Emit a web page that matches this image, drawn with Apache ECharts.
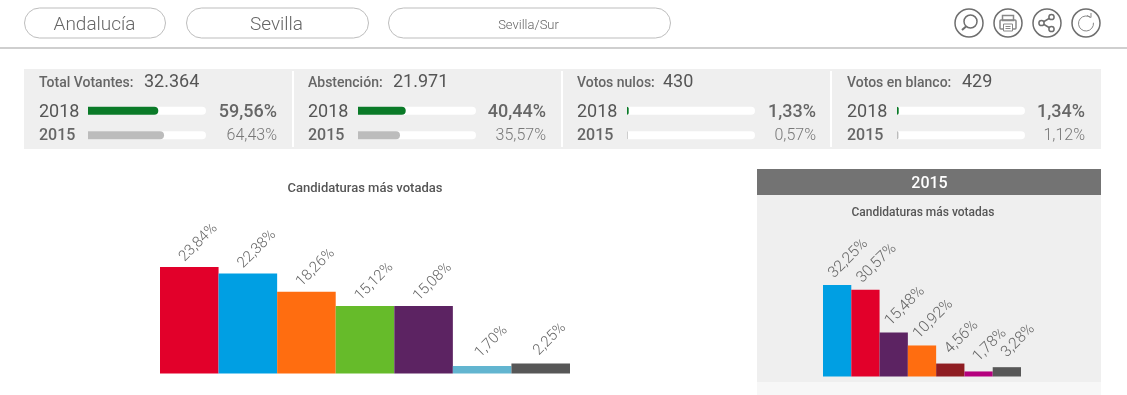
<!DOCTYPE html>
<html><head><meta charset="utf-8">
<style>html,body{margin:0;padding:0;background:#fff}#c{width:1127px;height:395px}</style>
<script src="https://cdn.jsdelivr.net/npm/echarts@6/dist/echarts.min.js"></script>
</head><body><div id="c"></div>
<script>
// ---------- data ----------
const navLabels = ['Andalucía', 'Sevilla', 'Sevilla/Sur'];
const statTitles = ['Total Votantes:', 'Abstención:', 'Votos nulos:', 'Votos en blanco:'];
const statTotals = ['32.364', '21.971', '430', '429'];
const years = ['2015', '2018'];
const pct2018 = [59.56, 40.44, 1.33, 1.34];
const pct2015 = [64.43, 35.57, 0.57, 1.12];
const chartTitle = 'Candidaturas más votadas';
const panelYear = '2015';
const values2018 = [23.84, 22.38, 18.26, 15.12, 15.08, 1.70, 2.25];
const colors2018 = ['#e2002a', '#009fe3', '#ff6d10', '#66bb2a', '#5c2362', '#62b5d0', '#575757'];
const values2015 = [32.25, 30.57, 15.48, 10.92, 4.56, 1.78, 3.28];
const colors2015 = ['#009fe3', '#e2002a', '#5c2362', '#ff6d10', '#8f1d22', '#b5007e', '#575757'];

// ---------- layout ----------
const FONT = 'Roboto, sans-serif';
const fmt = v => v.toFixed(2).replace('.', ',') + '%';
const cardX = [39, 308, 577, 847];      // text left
const trackX = [88, 358, 627, 897];
const trackW = [118, 118, 128, 128];
const pctRight = [277, 546, 816, 1085];
const navBoxes = [[24.5, 141, 94.5], [186.5, 182, 276.5], [388.5, 282, 528.5]];
const navSize = [19, 19, 13];
const totalX = [144, 393, 663, 962];

const g = [];
const rect = (x, y, w, h, fill, z) => g.push({type:'rect', z:z||0, shape:{x,y,width:w,height:h}, style:{fill}});
const text = (x, y, t, size, fill, opts) => g.push({type:'text', z:5, x, y:y+1, style:Object.assign({text:t, font:`${(opts&&opts.weight)||400} ${size}px ${FONT}`, fill, textAlign:(opts&&opts.align)||'left', textVerticalAlign:'middle'})});

// nav
navBoxes.forEach((b, i) => {
  g.push({type:'rect', shape:{x:b[0], y:8, width:b[1], height:30, r:15}, style:{fill:'#fff', stroke:'#bdbdbd', lineWidth:1}});
  text(b[2], 24.5, navLabels[i], navSize[i], '#666', {weight:300, align:'center'});
});
rect(0, 47, 1127, 2, '#cfcfcf');

// icons
const ink = '#6e6e6e';
[969, 1008, 1047, 1086].forEach(cx => g.push({type:'circle', shape:{cx, cy:23, r:14}, style:{fill:'#fff', stroke:ink, lineWidth:1.5}}));
const stroke = (o) => Object.assign({fill:null, stroke:ink, lineWidth:1.5}, o);
g.push({type:'circle', z:3, shape:{cx:970.5, cy:21.5, r:6.5}, style:stroke({})});
g.push({type:'line', z:3, shape:{x1:966, y1:26.5, x2:962, y2:30}, style:stroke({lineWidth:2})});
g.push({type:'rect', z:3, shape:{x:1002.5, y:15.5, width:11, height:5}, style:stroke({stroke:'#888'})});
g.push({type:'rect', z:3, shape:{x:1000, y:20, width:16, height:9, r:1}, style:stroke({stroke:'#888'})});
g.push({type:'rect', z:3, shape:{x:1003.5, y:24, width:9, height:7}, style:{fill:'#fff', stroke:'#888', lineWidth:1}});
g.push({type:'line', z:4, shape:{x1:1005.5, y1:26.5, x2:1010.5, y2:26.5}, style:stroke({stroke:'#888', lineWidth:1})});
g.push({type:'line', z:4, shape:{x1:1005.5, y1:28.5, x2:1010.5, y2:28.5}, style:stroke({stroke:'#888', lineWidth:1})});
[[1051.5, 17], [1041.5, 23], [1051.5, 29]].forEach(p => g.push({type:'circle', z:4, shape:{cx:p[0], cy:p[1], r:2.6}, style:{fill:'#fff', stroke:ink, lineWidth:1.5}}));
g.push({type:'polyline', z:3, shape:{points:[[1051.5,17],[1041.5,23],[1051.5,29]]}, style:stroke({})});
g.push({type:'arc', z:3, shape:{cx:1086, cy:23.5, r:7.5, startAngle:-0.1, endAngle:-1.0, clockwise:true}, style:stroke({stroke:'#888', lineWidth:1})});
g.push({type:'polyline', z:3, shape:{points:[[1087,15.5],[1091,17.5],[1091,13]]}, style:stroke({stroke:'#888', lineWidth:1})});

// stats strip
rect(24, 69, 1077, 80, '#efefef');
[292, 561, 830].forEach(x => rect(x, 71, 2, 76, '#fff', 1));
statTitles.forEach((t, i) => {
  text(cardX[i], 82, t, 14, '#666', {weight:500});
  text(totalX[i], 81, statTotals[i], 18, '#555');
  text(cardX[i], 111, years[1], 18, '#555');
  text(cardX[i], 135, years[0], 16, '#666', {weight:500});
  text(pctRight[i], 111, fmt(pct2018[i]), 18, '#666', {align:'right', weight:500});
  text(pctRight[i], 135, fmt(pct2015[i]), 16, '#777', {align:'right', weight:300});
});

// 2015 panel
rect(757, 169, 344, 26, '#737373');
rect(757, 195, 344, 187, '#efefef');
rect(757, 382, 344, 13, '#f7f7f7');
text(929.5, 182.5, panelYear, 16, '#fff', {align:'center', weight:500});
text(365, 188, chartTitle, 13, '#555', {align:'center', weight:500});
text(923, 212, chartTitle, 12, '#555', {align:'center', weight:500});

// ---------- charts ----------
const grids = [], xAxes = [], yAxes = [], series = [];
function addBarGrid(cfg) {
  const i = grids.length;
  grids.push({left:cfg.left, top:cfg.top, width:cfg.width, height:cfg.height, containLabel:false});
  xAxes.push({type:'category', gridIndex:i, data:cfg.data.map((_, k) => String(k)), show:false});
  yAxes.push({type:'value', gridIndex:i, min:0, max:cfg.max, show:false});
  series.push({type:'bar', xAxisIndex:i, yAxisIndex:i, barWidth:'100%', barCategoryGap:0, silent:true, animation:false,
    data:cfg.data.map((v, k) => ({value:v, itemStyle:{color:cfg.colors[k]}})),
    label:{show:true, position:'top', distance:15, offset:cfg.offset, rotate:45, align:'center', verticalAlign:'middle',
      formatter:p => fmt(p.value), fontFamily:FONT, fontWeight:300, fontSize:cfg.labelSize, color:'#666'}});
}
addBarGrid({left:160, top:173.5, width:410, height:200, max:44.74, data:values2018, colors:colors2018, offset:[13, 0], labelSize:15});
addBarGrid({left:823, top:176.5, width:198, height:200, max:70.4, data:values2015, colors:colors2015, offset:[16, 0], labelSize:15.5});

// progress bars: one small grid per card, two rows (2015, 2018)
statTitles.forEach((t, i) => {
  const n = grids.length;
  grids.push({left:trackX[i], top:98.5, width:trackW[i], height:49});
  xAxes.push({type:'value', gridIndex:n, min:0, max:100, show:false});
  yAxes.push({type:'category', gridIndex:n, data:years, show:false});
  series.push({type:'bar', xAxisIndex:n, yAxisIndex:n, barWidth:8, silent:true, animation:false, z:3,
    showBackground:true, backgroundStyle:{color:'#fff', borderRadius:[0,4,4,0]},
    data:[{value:pct2015[i], itemStyle:{color:'#bcbcbc', borderRadius:[0,4,4,0]}},
          {value:pct2018[i], itemStyle:{color:'#0a7a28', borderRadius:[0,4,4,0]}}]});
});

const chart = echarts.init(document.getElementById('c'), null, {renderer:'canvas'});
chart.setOption({animation:false, grid:grids, xAxis:xAxes, yAxis:yAxes, series, graphic:{elements:g}});
</script></body></html>
